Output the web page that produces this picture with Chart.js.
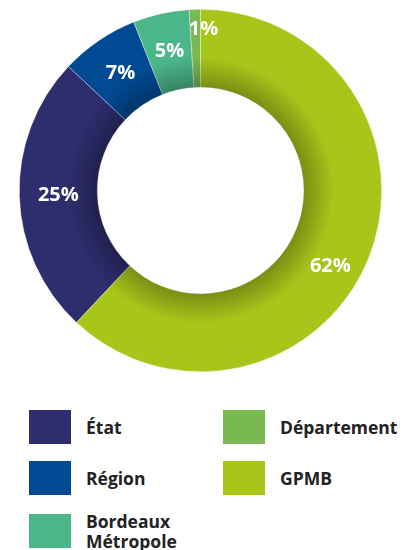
<!DOCTYPE html>
<html>
<head>
<meta charset="utf-8">
<script src="https://cdn.jsdelivr.net/npm/chart.js@4/dist/chart.umd.min.js"></script>
<style>
  html, body { margin: 0; padding: 0; background: #fff; }
  body { width: 413px; height: 550px; position: relative; overflow: hidden; font-family: "Open Sans", sans-serif; }
  #wrap { position: absolute; left: 0; top: 0; width: 401px; height: 381px; }
  #legend { position: absolute; left: 29px; top: 410px; width: 384px; }
  .item { position: absolute; display: flex; align-items: center; }
  .box { width: 42px; height: 34px; flex: none; }
  .txt { margin-left: 15px; font-weight: 700; font-size: 17.5px; color: #222; line-height: 20px; }
</style>
</head>
<body>
<div id="wrap"><canvas id="donut"></canvas></div>
<div id="legend"></div>
<script>
const labels = ["État", "Région", "Bordeaux Métropole", "Département", "GPMB"];
const values = [25, 7, 5, 1, 62];
const colors = ['#2e2d6e', '#004a93', '#4bb68a', '#7ab851', '#a8c61a'];
const legendText = ["État", "Région", "Bordeaux<br>Métropole", "Département", "GPMB"];

const total = values.reduce((a, b) => a + b, 0);
// GPMB finishes where État starts, so rotate by its share
const rotation = values[4] / total * 360;

// légende en deux colonnes (colonne par colonne)
const legend = document.getElementById('legend');
labels.forEach((lab, i) => {
    const col = i < 3 ? 0 : 1;
    const row = i < 3 ? i : i - 3;
    const el = document.createElement('div');
    el.className = 'item';
    el.style.left = (col * 194) + 'px';
    el.style.top = (row * 50.5) + 'px';
    el.innerHTML = '<div class="box" style="background:' + colors[i] + '"></div><div class="txt">' + legendText[i] + '</div>';
    legend.appendChild(el);
});

const innerShadow = {
    id: 'innerShadow',
    afterDatasetsDraw(chart) {
        const arc = chart.getDatasetMeta(0).data[0];
        if (!arc) return;
        const { x, y, innerRadius, outerRadius } = arc.getProps(['x', 'y', 'innerRadius', 'outerRadius'], true);
        const ctx = chart.ctx;
        const g = ctx.createRadialGradient(x, y, innerRadius, x, y, innerRadius + 30);
        g.addColorStop(0, 'rgba(0,0,0,0.28)');
        g.addColorStop(1, 'rgba(0,0,0,0)');
        ctx.save();
        ctx.beginPath();
        ctx.arc(x, y, outerRadius, 0, Math.PI * 2);
        ctx.arc(x, y, innerRadius, 0, Math.PI * 2, true);
        ctx.fillStyle = g;
        ctx.fill();
        ctx.restore();
    }
};

const pctLabels = {
    id: 'pctLabels',
    afterDatasetsDraw(chart) {
        const ctx = chart.ctx;
        const meta = chart.getDatasetMeta(0);
        ctx.save();
        ctx.fillStyle = '#fff';
        ctx.font = '700 20px "Open Sans", sans-serif';
        ctx.textAlign = 'center';
        ctx.textBaseline = 'middle';
        meta.data.forEach((el, i) => {
            const p = el.getProps(['x', 'y', 'startAngle', 'endAngle', 'innerRadius', 'outerRadius'], true);
            let a = (p.startAngle + p.endAngle) / 2;
            let r = (p.innerRadius + p.outerRadius) / 2;
            if (values[i] < 2) r = p.outerRadius - 20;
            if (values[i] > 50) { a += 0.15; r += 8; }
            ctx.fillText(values[i] + '%', p.x + Math.cos(a) * r + (values[i] < 2 ? 8 : 0), p.y + Math.sin(a) * r);
        });
        ctx.restore();
    }
};

new Chart(document.getElementById('donut').getContext('2d'), {
    type: 'doughnut',
    data: {
        labels: labels,
        datasets: [{
            data: values,
            backgroundColor: colors,
            borderColor: 'rgba(255,255,255,0.6)',
            borderWidth: 0.6
        }]
    },
    options: {
        responsive: true,
        maintainAspectRatio: false,
        animation: false,
        rotation: rotation,
        cutout: '57%',
        layout: { padding: 9 },
        plugins: {
            legend: { display: false },
            tooltip: { enabled: false }
        }
    },
    plugins: [innerShadow, pctLabels]
});
</script>
</body>
</html>
